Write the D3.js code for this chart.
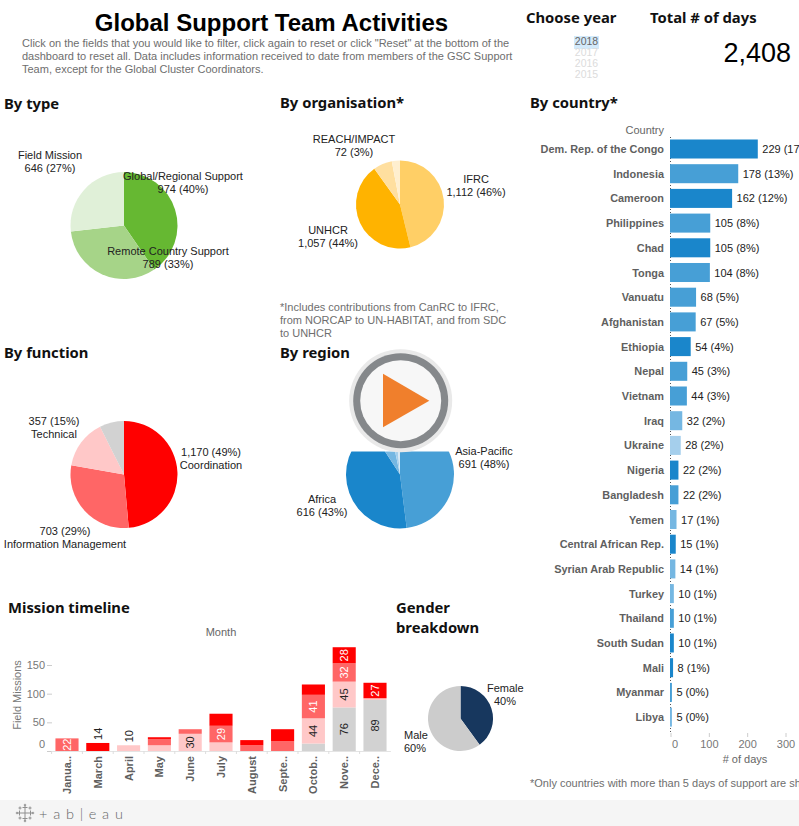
<!DOCTYPE html>
<html><head><meta charset="utf-8">
<script src="https://cdn.jsdelivr.net/npm/d3@7"></script>
<style>
html,body{margin:0;padding:0;background:#fff;overflow:hidden}
svg{display:block}
text{font-family:"Liberation Sans",Arial,sans-serif}
.head{font-family:"Noto Sans",sans-serif;font-weight:700;font-size:14.8px;fill:#111}
</style></head><body>
<script>
const typeNames=["Global/Regional Support","Remote Country Support","Field Mission"];
const typeValues=[974,789,646];
const typeColors=["#66b832","#a6d488","#e0f0d8"];
const orgNames=["IFRC","UNHCR","Other","REACH/IMPACT"];
const orgValues=[1112,1057,167,72];
const orgColors=["#ffcf66","#ffb300","#ffdf9f","#ffefcf"];
const funcNames=["Coordination","Information Management","Technical","Other"];
const funcValues=[1170,703,357,178];
const funcColors=["#ff0000","#ff6666","#ffc8c8","#d2d2d2"];
const regionNames=["Asia-Pacific","Africa","Middle East","Europe","Other"];
const regionValues=[691,616,84,28,20];
const regionColors=["#479fd6","#1a86cb","#75b7e2","#a5cfec","#d5e8f5"];
const genderNames=["Female","Male"];
const genderValues=[40,60];
const genderColors=["#17375e","#cccccc"];
const countries=["Dem. Rep. of the Congo","Indonesia","Cameroon","Philippines","Chad","Tonga","Vanuatu","Afghanistan","Ethiopia","Nepal","Vietnam","Iraq","Ukraine","Nigeria","Bangladesh","Yemen","Central African Rep.","Syrian Arab Republic","Turkey","Thailand","South Sudan","Mali","Myanmar","Libya"];
const countryDays=[229,178,162,105,105,104,68,67,54,45,44,32,28,22,22,17,15,14,10,10,10,8,5,5];
const countryPct=[17,13,12,8,8,8,5,5,4,3,3,2,2,2,2,1,1,1,1,1,1,1,0,0];
const countryRegion=["A","P","A","P","A","P","P","P","A","P","P","M","E","A","P","M","A","M","M","P","A","A","P","M"];
const regionKeys=["A","P","M","E"];
const barColors=["#1a86cb","#479fd6","#75b7e2","#a5cfec"];
const months=["Janua..","March","April","May","June","July","August","Septe..","Octob..","Nove..","Dece.."];
const missionGrey=[0,0,0,0,0,0,0,0,13,76,89];
const missionLight=[0,0,10,10,30,15,0,0,44,45,3];
const missionMid=[22,0,0,11,8,29,10,17,41,32,0];
const missionRed=[0,14,0,3,0,21,9,21,18,28,27];
const missionColors=["#d2d2d2","#ffc8c8","#ff6666","#ff0000"];
const missionLabelMin=22;
const years=["2018","2017","2016","2015"];
const yTicks=[0,50,100,150];
const xTicks=[0,100,200,300];

const svg=d3.select("body").append("svg").attr("width",799).attr("height",826);
const T=(x,y,s,o={})=>svg.append("text").attr("x",x).attr("y",y).text(s)
  .attr("font-size",o.size||11).attr("fill",o.fill||"#222").attr("text-anchor",o.anchor||"start")
  .attr("font-weight",o.weight||"normal").attr("class",o.cls||null);

function pie(cx,cy,r,vals,cols){
  const g=svg.append("g").attr("transform",`translate(${cx},${cy})`);
  const arcs=d3.pie().sort(null)(vals);
  g.selectAll("path").data(arcs).join("path").attr("d",d3.arc().innerRadius(0).outerRadius(r)).attr("fill",(d,i)=>cols[i]);
}
pie(124,225.5,53.5,typeValues,typeColors);
pie(400,204.5,44,orgValues,orgColors);
pie(124,474.5,53.5,funcValues,funcColors);
pie(400,474.5,54,regionValues,regionColors);
pie(460.5,718.5,32.5,genderValues,genderColors);

// Title + intro
T(271.5,31,"Global Support Team Activities",{size:24,weight:"bold",anchor:"middle",fill:"#000"});
["Click on the fields that you would like to filter, click again to reset or click \"Reset\" at the bottom of the",
 "dashboard to reset all. Data includes information received to date from members of the GSC Support",
 "Team, except for the Global Cluster Coordinators."].forEach((s,i)=>T(22,47+i*13,s,{size:11,fill:"#6e6e6e"}));

// Headings
[[4,109,"By type"],[280,108,"By organisation*"],[530,108,"By country*"],[4,358,"By function"],[280,358,"By region"],[8,613,"Mission timeline"],[396,613,"Gender"],[396,633,"breakdown"],[526,23,"Choose year"],[650,23,"Total # of days"]]
 .forEach(d=>T(d[0],d[1],d[2],{cls:"head"}));

// Year list
svg.append("rect").attr("x",574).attr("y",36).attr("width",25).attr("height",13).attr("fill","#d3eafb");
years.forEach((y,i)=>T(586.5,45+i*10.9,y,{size:10.5,anchor:"middle",fill:i?"#dcdcdc":"#666"}));
T(791,62,"2,408",{size:27,anchor:"end",fill:"#000"});

// Pie labels
const lbl=(x,y,a,b)=>{T(x,y,a,{anchor:"middle"});T(x,y+13,b,{anchor:"middle"});};
lbl(50,159,typeNames[2],"646 (27%)");
lbl(183,180,typeNames[0],"974 (40%)");
lbl(168,255,typeNames[1],"789 (33%)");
lbl(354,143,orgNames[3],"72 (3%)");
lbl(476,183,orgNames[0],"1,112 (46%)");
lbl(328,234,orgNames[1],"1,057 (44%)");
lbl(54,425,"357 (15%)",funcNames[2]);
lbl(211,456,"1,170 (49%)",funcNames[0]);
lbl(65,535,"703 (29%)",funcNames[1]);
lbl(484,455,regionNames[0],"691 (48%)");
lbl(322,503,regionNames[1],"616 (43%)");
T(487,692,genderNames[0]);T(494,705,"40%");
T(404,739,genderNames[1]);T(404,752,"60%");

["*Includes contributions from CanRC to IFRC,","from NORCAP to UN-HABITAT, and from SDC","to UNHCR"].forEach((s,i)=>T(280,311+i*13,s,{fill:"#6e6e6e"}));

// Play button overlay
svg.append("rect").attr("x",345).attr("y",366).attr("width",112).attr("height",85.5).attr("fill","#fff");
const pb=svg.append("g").attr("transform","translate(400.7,400.7)");
pb.append("circle").attr("r",51.5).attr("fill","#e9e9e9");
pb.append("circle").attr("r",47.5).attr("fill","#85888b");
pb.append("circle").attr("r",40.5).attr("fill","#f7f7f7");
pb.append("path").attr("d","M-17.7,-27L-17.7,26.5L28.6,0Z").attr("fill","#f07f2c");

// Country bars
const cx=d3.scaleLinear().domain([0,300]).range([670.5,785.5]);
const cy=d3.scaleBand().domain(countries).range([136.65,729.45]).paddingInner(0.23).paddingOuter(0.115);
const col=d3.scaleOrdinal().domain(regionKeys).range(barColors);
svg.append("line").attr("x1",670.5).attr("x2",670.5).attr("y1",137).attr("y2",734).attr("stroke","#555").attr("stroke-dasharray","1 2");
T(664,134,"Country",{anchor:"end",fill:"#666"});
const rows=svg.append("g").selectAll("g").data(countries).join("g");
rows.append("rect").attr("x",670).attr("y",d=>cy(d)).attr("height",cy.bandwidth())
  .attr("width",(d,i)=>cx(countryDays[i])-670.5).attr("fill",(d,i)=>col(countryRegion[i]));
rows.append("text").attr("x",664).attr("y",d=>cy(d)+cy.bandwidth()/2+4).attr("text-anchor","end")
  .attr("font-size",10.9).attr("font-weight","bold").attr("fill","#5f5f5f").text(d=>d);
rows.append("text").attr("x",(d,i)=>cx(countryDays[i])+4).attr("y",d=>cy(d)+cy.bandwidth()/2+4)
  .attr("font-size",11).attr("fill","#222").text((d,i)=>`${countryDays[i]} (${countryPct[i]}%)`);
const ax=svg.append("g").attr("transform","translate(0,733)").call(d3.axisBottom(cx).tickValues(xTicks).tickSize(4).tickPadding(3));
ax.select(".domain").remove();
ax.selectAll("line").attr("stroke","#ccc");
ax.selectAll("text").attr("font-size",11).attr("fill","#777").attr("font-family","Liberation Sans").attr("dx",d=>d===0?4:0);
T(745,763,"# of days",{anchor:"middle",fill:"#666"});
T(530,787,"*Only countries with more than 5 days of support are shown",{fill:"#6e6e6e"});

// Timeline
const mx=d3.scaleBand().domain(months).range([51.6,390.4]).paddingInner(0.25).paddingOuter(0.125);
const my=d3.scaleLinear().domain([0,150]).range([751,665]);
const series=[missionGrey,missionLight,missionMid,missionRed];
const stack=d3.stack().keys([0,1,2,3]).value((d,k)=>series[k][d])(months.map((m,i)=>i));
const tl=svg.append("g");
stack.forEach((s,k)=>{
  tl.append("g").selectAll("rect").data(s).join("rect")
    .attr("x",(d,i)=>mx(months[i])).attr("width",mx.bandwidth())
    .attr("y",d=>my(d[1])).attr("height",d=>my(d[0])-my(d[1])).attr("fill",missionColors[k]);
  const outside=i=>(k===3&&i===1)||(k===1&&i===2);
  tl.append("g").selectAll("text").data(s).join("text")
    .attr("transform",(d,i)=>{
      const yy=outside(i)?my(d[1])-3:(my(d[0])+my(d[1]))/2;
      return `translate(${mx(months[i])+mx.bandwidth()/2+4},${yy}) rotate(-90)`;})
    .attr("text-anchor",(d,i)=>outside(i)?"start":"middle")
    .attr("font-size",11)
    .attr("fill",(d,i)=>outside(i)?"#222":(k>=2?"#fff":"#222"))
    .text((d,i)=>{const v=d[1]-d[0];
      if(outside(i))return v;
      return v>=missionLabelMin&&!(k===3&&i===5)?v:"";});
});
const ay=svg.append("g").attr("transform","translate(52,0)").call(d3.axisLeft(my).tickValues(yTicks).tickSize(5).tickPadding(2));
ay.select(".domain").remove();ay.selectAll("line").attr("stroke","#ccc");
ay.selectAll("text").attr("font-size",11).attr("fill","#777").attr("font-family","Liberation Sans").attr("dy",d=>d===0?"-0.35em":"0.32em");
const am=svg.append("g").attr("transform","translate(0,751)").call(d3.axisBottom(mx).tickSize(0).tickPadding(0));
am.select(".domain").attr("stroke","#e4e4e4");
am.selectAll("line").attr("y2",3).attr("stroke","#ddd").attr("x1",-mx.step()/2).attr("x2",-mx.step()/2);
am.selectAll("text").attr("font-size",11).attr("font-weight","bold").attr("fill","#5f5f5f").attr("font-family","Liberation Sans")
  .attr("text-anchor","end").attr("dy",0).attr("transform","translate(4,5) rotate(-90)").attr("y",0);
T(221,636,"Month",{anchor:"middle",fill:"#666"});
svg.append("text").attr("transform","translate(21,695) rotate(-90)").attr("text-anchor","middle").attr("font-size",11).attr("fill","#777").text("Field Missions");

// Footer
svg.append("rect").attr("y",800).attr("width",799).attr("height",26).attr("fill","#f5f5f5");
const logo=svg.append("g").attr("transform","translate(25,813)").attr("stroke","#8f8f8f").attr("stroke-width",1).attr("fill","none");
[[0,-5.5,2.5],[-5.5,0,2.5],[5.5,0,2.5],[0,5.5,2.5],[0,0,3],[-5,-5,1.5],[5,-5,1.5],[-5,5,1.5],[5,5,1.5],[0,-8,1.2],[0,8,1.2],[-8,0,1.2],[8,0,1.2]]
 .forEach(p=>logo.append("path").attr("d",`M${p[0]-p[2]},${p[1]}H${p[0]+p[2]}M${p[0]},${p[1]-p[2]}V${p[1]+p[2]}`));
T(39,819,"+ a b | e a u",{size:14.5,fill:"#666"}).attr("style","font-family:'Lato',sans-serif;font-weight:300;letter-spacing:0.9px");
</script>
</body></html>
